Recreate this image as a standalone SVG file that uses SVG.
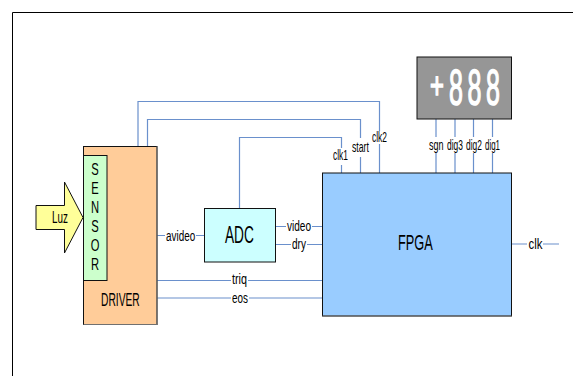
<svg xmlns="http://www.w3.org/2000/svg" width="573" height="376" viewBox="0 0 573 376">
<style>
text{font-family:"Liberation Sans",Arial,sans-serif;fill:#000}
.s{font-size:15px}
.box{stroke:#111;stroke-width:1}
.w path{fill:none;stroke:#6a90cc;stroke-width:1.2}
.sh{fill:none;stroke:#707070;stroke-width:1.2}
text.d{fill:#fff;stroke:#fff;stroke-width:1.5;font-size:50px}
</style>
<rect width="573" height="376" fill="#fff"/>
<path id="frame" d="M12.500 376V12.500H573" fill="none" stroke="#000" stroke-width="1"/>
<g id="connectors" class="w">
<path d="M138 146V101.500H379.500V131M379.500 144V173"/>
<path d="M147.500 146V119.500H360.500V138M360.500 157V173"/>
<path d="M239.500 208V137.500H341.500V148M341.500 165V173"/>
<path d="M157 235.500H165M196 235.500H204"/>
<path d="M275 226.500H286M312 226.500H322"/>
<path d="M275 244.500H291M307 244.500H322"/>
<path d="M157 280.500H231M248 280.500H322"/>
<path d="M157 298H231M249 298H322"/>
<path d="M511.500 244H527M543 244H559"/>
<path d="M436 119V137M436 153V173"/>
<path d="M455 119V137M455 153V173"/>
<path d="M473.500 119V137M473.500 153V173"/>
<path d="M492.500 119V137M492.500 153V173"/>
</g>
<g id="driver">
<rect class="box" x="83.500" y="146.500" width="73.500" height="178" fill="#ffcc99"/>
<path class="sh" d="M157 146.500V324.500H83.500"/>
<text transform="translate(101 305.500) scale(.57 1)" style="font-size:18px">DRIVER</text>
</g>
<g id="sensor">
<rect class="box" x="83.500" y="155.500" width="23.500" height="125" fill="#ccffcc"/>
<g style="font-size:16px" text-anchor="middle">
<text transform="translate(95 175) scale(.7 1)">S</text>
<text transform="translate(95 194) scale(.7 1)">E</text>
<text transform="translate(95 213) scale(.7 1)">N</text>
<text transform="translate(95 232) scale(.7 1)">S</text>
<text transform="translate(95 251) scale(.7 1)">O</text>
<text transform="translate(95 270) scale(.7 1)">R</text>
</g>
</g>
<g id="luz">
<path class="box" d="M36 205.500H64.500V182L83 217.500L64.500 253V229.500H36Z" fill="#ffff99"/>
<text transform="translate(52 222.500) scale(.58 1)" style="font-size:17px">Luz</text>
</g>
<g id="adc">
<rect class="box" x="204.500" y="208.500" width="71" height="53.500" fill="#ccffff"/>
<text transform="translate(225 242.500) scale(.57 1)" style="font-size:24px">ADC</text>
</g>
<g id="fpga">
<rect class="box" x="322.500" y="173" width="189" height="143" fill="#99ccff"/>
<path class="sh" d="M322.500 316H511.500"/>
<text transform="translate(398 250) scale(.58 1)" style="font-size:22px">FPGA</text>
</g>
<g id="display">
<rect class="box" x="417" y="57" width="94.500" height="62" fill="#969696"/>
<text class="d" transform="translate(430 98) scale(.66 1)" style="font-size:36px">+</text>
<text class="d" transform="translate(449 105) scale(.5 1)">8</text>
<text class="d" transform="translate(467.500 105) scale(.5 1)">8</text>
<text class="d" transform="translate(486 105) scale(.5 1)">8</text>
</g>
<g id="labels">
<text class="s" transform="translate(166 240.500) scale(.66 1)">avideo</text>
<text class="s" transform="translate(287 230.500) scale(.67 1)">video</text>
<text class="s" transform="translate(292 248.500) scale(.67 1)">dry</text>
<text class="s" transform="translate(232 283.500) scale(.72 1)">triq</text>
<text class="s" transform="translate(232 302.500) scale(.66 1)">eos</text>
<text class="s" transform="translate(333 160) scale(.56 1)">clk1</text>
<text class="s" transform="translate(352 151.500) scale(.58 1)">start</text>
<text class="s" transform="translate(372 141.500) scale(.56 1)">clk2</text>
<text class="s" transform="translate(429 150) scale(.6 1)">sgn</text>
<text class="s" transform="translate(447 150) scale(.56 1)">dig3</text>
<text class="s" transform="translate(466 150) scale(.56 1)">dig2</text>
<text class="s" transform="translate(485 150) scale(.53 1)">dig1</text>
<text class="s" transform="translate(528.500 249) scale(.76 1)">clk</text>
</g>
</svg>
